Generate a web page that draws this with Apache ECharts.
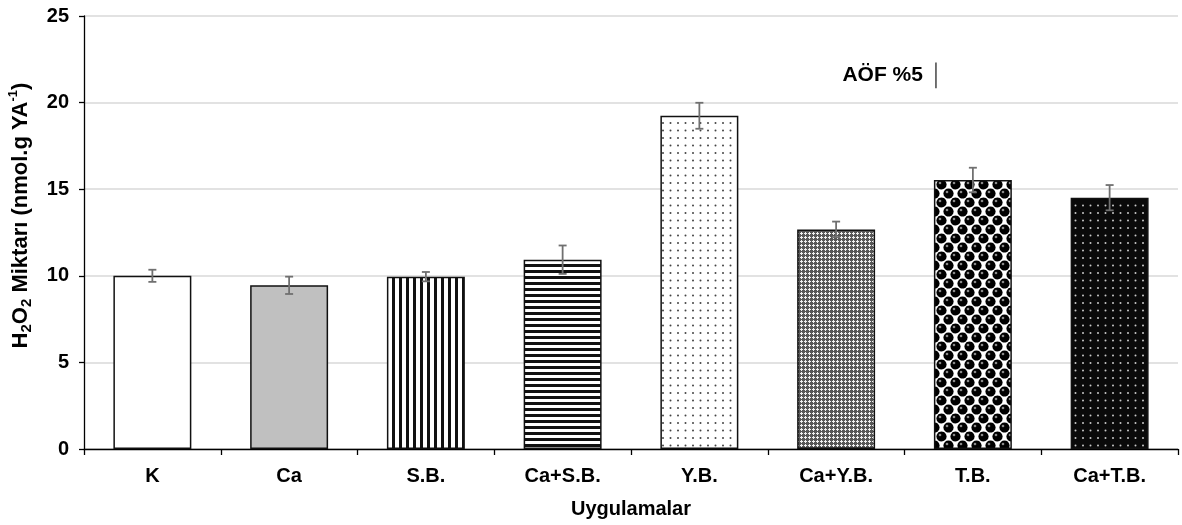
<!DOCTYPE html>
<html><head><meta charset="utf-8">
<script src="https://cdn.jsdelivr.net/npm/echarts@6/dist/echarts.min.js"></script>
<style>html,body{margin:0;padding:0;background:#fff}#c{width:1182px;height:525px}</style>
</head><body><div id="c"></div>
<script>
const categories = ['K','Ca','S.B.','Ca+S.B.','Y.B.','Ca+Y.B.','T.B.','Ca+T.B.'];
const values = [10.0, 9.45, 9.95, 10.93, 19.24, 12.68, 15.53, 14.51];
const errors = [0.35, 0.5, 0.27, 0.82, 0.75, 0.45, 0.71, 0.73];
const yTicks = [0, 5, 10, 15, 20, 25];
const lsdValue = 1.48;      // AÖF %5
const lsdCenter = 21.57;
const lsdCategory = 6;       // drawn near T.B. category
const lsdOffset = -0.27;     // fraction of category width

function tile(w, h, draw) {
  const c = document.createElement('canvas');
  c.width = w; c.height = h;
  const ctx = c.getContext('2d');
  draw(ctx, w, h);
  return c;
}
function dot(ctx, x, y, r, col) { ctx.fillStyle = col; ctx.beginPath(); ctx.arc(x, y, r, 0, Math.PI * 2); ctx.fill(); }

const patterns = [
  '#ffffff',
  '#c0c0c0',
  { image: tile(7, 4, (c) => { c.fillStyle = '#fff'; c.fillRect(0,0,7,4); c.fillStyle = '#111'; c.fillRect(0,0,3,4); }), repeat: 'repeat' },
  { image: tile(4, 6, (c) => { c.fillStyle = '#fff'; c.fillRect(0,0,4,6); c.fillStyle = '#111'; c.fillRect(0,0,4,3); }), repeat: 'repeat' },
  { image: tile(15, 15, (c) => { c.fillStyle = '#fff'; c.fillRect(0,0,15,15); const col = '#444'; dot(c,3,3,1,col); dot(c,10.5,3,1,col); dot(c,3,10.5,1,col); dot(c,10.5,10.5,1,col); }), repeat: 'repeat' },
  { image: tile(4, 4, (c) => { c.fillStyle = '#575757'; c.fillRect(0,0,4,4); c.fillStyle = '#f0f0f0'; c.fillRect(1,0,1,3); c.fillRect(0,1,3,1); }), repeat: 'repeat' },
  { image: tile(14, 18, (c) => {
      c.fillStyle = '#fff'; c.fillRect(0,0,14,18);
      const circ = (x, y) => { dot(c, x, y, 5.1, '#000'); dot(c, x - 1.5, y - 1.5, 1.3, '#8a8a8a'); };
      circ(3.5, 4.5); circ(17.5, 4.5); circ(10.5, 13.5); circ(-3.5, 13.5); circ(3.5, 22.5); circ(17.5, 22.5); circ(10.5, -4.5); circ(-3.5, -4.5);
    }), repeat: 'repeat' },
  { image: tile(15, 15, (c) => { c.fillStyle = '#0a0a0a'; c.fillRect(0,0,15,15); const col = '#c8c8c8'; dot(c,3,3,1,col); dot(c,10.5,3,1,col); dot(c,3,10.5,1,col); dot(c,10.5,10.5,1,col); }), repeat: 'repeat' }
];

const FONT = '"Liberation Sans", Arial, sans-serif';
const chart = echarts.init(document.getElementById('c'), null, { renderer: 'canvas' });

const barData = values.map((v, i) => ({ value: v, itemStyle: { color: patterns[i] } }));
const errData = values.map((v, i) => [i, v, errors[i]]);

chart.setOption({
  animation: false,
  backgroundColor: '#fff',
  grid: { left: 84, right: 4, top: 16, bottom: 76, containLabel: false, outerBoundsMode: 'none' },
  xAxis: {
    type: 'category', data: categories,
    name: 'Uygulamalar', nameLocation: 'middle', nameGap: 50,
    nameTextStyle: { fontFamily: FONT, fontWeight: 'bold', fontSize: 20, color: '#000' },
    axisLine: { lineStyle: { color: '#000', width: 1.3 } },
    axisTick: { show: true, length: 6, lineStyle: { color: '#000', width: 1.3 } },
    axisLabel: { fontFamily: FONT, fontWeight: 'bold', fontSize: 20, color: '#000', margin: 17 },
    splitLine: { show: false }
  },
  yAxis: {
    type: 'value', min: yTicks[0], max: yTicks[yTicks.length - 1], interval: 5,
    name: '{b|H}{s|2}{b|O}{s|2}{b| Miktarı (nmol.g YA}{p|-1}{b|)}',
    nameLocation: 'middle', nameGap: 50, nameRotate: 90,
    nameTextStyle: {
      padding: [0, 0, 0, 34],
      rich: {
        b: { fontFamily: FONT, fontWeight: 'bold', fontSize: 22, color: '#000', lineHeight: 27, verticalAlign: 'middle' },
        s: { fontFamily: FONT, fontWeight: 'bold', fontSize: 15, color: '#000', lineHeight: 14, verticalAlign: 'bottom' },
        p: { fontFamily: FONT, fontWeight: 'bold', fontSize: 13, color: '#000', lineHeight: 13, verticalAlign: 'top' }
      }
    },
    axisLine: { show: true, lineStyle: { color: '#000', width: 1.3 } },
    axisTick: { show: true, length: 5, lineStyle: { color: '#000', width: 1.3 } },
    axisLabel: { fontFamily: FONT, fontWeight: 'bold', fontSize: 20, color: '#000', margin: 15 },
    splitLine: { show: true, lineStyle: { color: '#d9d9d9', width: 1.5 } }
  },
  series: [
    {
      type: 'bar', data: barData, barWidth: '57%',
      itemStyle: { borderColor: '#111', borderWidth: 1.5 },
      z: 2
    },
    {
      type: 'custom', data: errData, z: 5,
      renderItem: (params, api) => {
        const i = api.value(0), v = api.value(1), e = api.value(2);
        const top = api.coord([i, v + e]);
        const bot = api.coord([i, v - e]);
        const hw = 4;
        const st = { stroke: '#707070', lineWidth: 1.8 };
        return { type: 'group', children: [
          { type: 'line', shape: { x1: top[0], y1: top[1], x2: bot[0], y2: bot[1] }, style: st },
          { type: 'line', shape: { x1: top[0] - hw, y1: top[1], x2: top[0] + hw, y2: top[1] }, style: st },
          { type: 'line', shape: { x1: bot[0] - hw, y1: bot[1], x2: bot[0] + hw, y2: bot[1] }, style: st }
        ]};
      }
    },
    {
      type: 'custom', data: [[lsdCategory, lsdCenter, lsdValue]], z: 6,
      renderItem: (params, api) => {
        const c = api.value(0), m = api.value(1), l = api.value(2);
        const w = api.size([1, 0])[0];
        const p1 = api.coord([c, m + l / 2]);
        const p2 = api.coord([c, m - l / 2]);
        const x = p1[0] + lsdOffset * w;
        return { type: 'group', children: [
          { type: 'line', shape: { x1: x, y1: p1[1], x2: x, y2: p2[1] }, style: { stroke: '#444', lineWidth: 1.5 } },
          { type: 'text', x: x - 13, y: (p1[1] + p2[1]) / 2, style: { text: 'AÖF %5', fontFamily: FONT, fontWeight: 'bold', fontSize: 21, fill: '#000', align: 'right', verticalAlign: 'middle' } }
        ]};
      }
    }
  ]
});
</script></body></html>
